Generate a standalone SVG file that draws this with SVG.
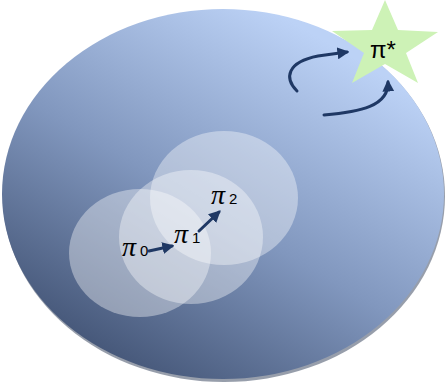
<svg xmlns="http://www.w3.org/2000/svg" width="445" height="390" viewBox="0 0 445 390">
<style>
.blob{fill:#ffffff;fill-opacity:0.38}
.pi{font-family:"Liberation Serif","DejaVu Serif",serif;font-style:italic;fill:#000}
.sub{font-family:"Liberation Sans","DejaVu Sans",sans-serif;fill:#000}
.arr{fill:none;stroke:#1f3864;stroke-width:3;stroke-linecap:round}
</style>
<defs>
<linearGradient id="bg" x1="0.15" y1="0.95" x2="0.75" y2="0.1">
<stop offset="0" stop-color="#3e4f70"/>
<stop offset="0.5" stop-color="#8197be"/>
<stop offset="1" stop-color="#bcd2f6"/>
</linearGradient>
<marker id="ah" viewBox="0 0 10 10" refX="8" refY="5" markerWidth="4" markerHeight="4" orient="auto" markerUnits="strokeWidth">
<path d="M0,0 L10,5 L0,10 z" fill="#1f3864"/>
</marker>
</defs>
<g id="space">
<ellipse cx="224" cy="196" rx="221" ry="186" fill="#2f3d58" opacity="0.5"/>
<ellipse cx="223" cy="194" rx="221" ry="185" fill="url(#bg)"/>
</g>
<g id="region0"><ellipse class="blob" cx="140" cy="253" rx="71" ry="64"/></g>
<g id="region1"><ellipse class="blob" cx="191" cy="237" rx="72" ry="67"/></g>
<g id="region2"><ellipse class="blob" cx="224" cy="198" rx="74" ry="67"/></g>
<g id="star">
<polygon points="385,0 398,30 438,32 406,53 418,83 385,64 352,83 364,53 332,31 372,30" fill="#cdf2b6"/>
<text x="370" y="58" font-family="Liberation Sans,DejaVu Sans,sans-serif" font-size="24" fill="#000">π*</text>
</g>
<g id="pi0"><text class="pi" x="122" y="256" font-size="28">π</text><text class="sub" x="140" y="256" font-size="15">0</text></g>
<g id="pi1"><text class="pi" x="174" y="243" font-size="28">π</text><text class="sub" x="192" y="243" font-size="15">1</text></g>
<g id="pi2"><text class="pi" x="211" y="204" font-size="28">π</text><text class="sub" x="229" y="204" font-size="15">2</text></g>
<g id="connectors">
<path class="arr" d="M149,251 L172,246" marker-end="url(#ah)"/>
<path class="arr" d="M199,231 L219,212" marker-end="url(#ah)"/>
<path class="arr" d="M297,91 C284,78 287,62 318,56 L347,52" marker-end="url(#ah)"/>
<path class="arr" d="M324,115 C360,112 389,106 388,82" marker-end="url(#ah)"/>
</g>
</svg>
